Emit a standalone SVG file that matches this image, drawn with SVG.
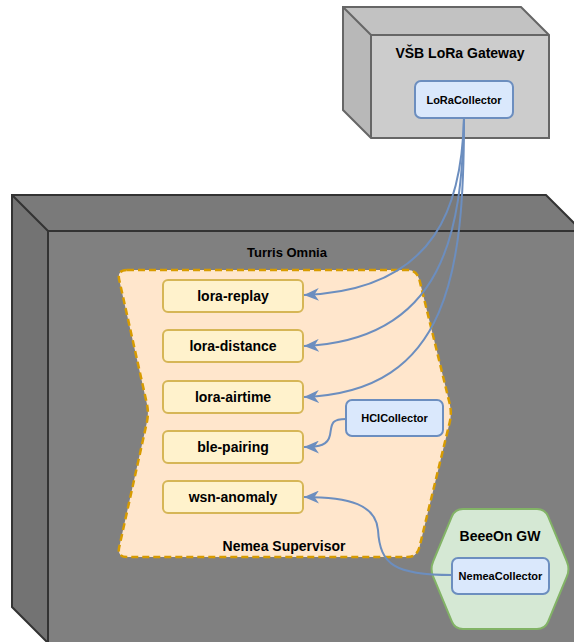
<svg xmlns="http://www.w3.org/2000/svg" width="574" height="642" viewBox="0 0 574 642">
<defs>
<style>
text{font-family:"Liberation Sans",Arial,sans-serif;font-weight:bold;fill:#000;text-anchor:middle}
.lbl{font-size:13px}
.big{font-size:14px}
.proc{fill:#fff2cc;stroke:#d6b656;stroke-width:2}
.proc-t{font-size:14px}
.col{fill:#dae8fc;stroke:#6c8ebf;stroke-width:2}
.col-t{font-size:11px}
.edge{fill:none;stroke:#6c8ebf;stroke-width:2}
</style>
<marker id="arr" markerUnits="userSpaceOnUse" viewBox="0 0 15 13" refX="15" refY="6.5" markerWidth="15" markerHeight="13" orient="auto">
<path d="M15,6.5 L0,0 L4.5,6.5 L0,13 Z" fill="#6c8ebf"/>
</marker>
</defs>
<rect width="574" height="642" fill="#fff"/>

<g id="turris-omnia">
<path d="M48,231 L582,231 L582,643 L48,643 Z" fill="#808080"/>
<path d="M12,195 L546,195 L582,231 L48,231 Z" fill="#7a7a7a"/>
<path d="M12,195 L48,231 L48,643 L12,607 Z" fill="#737373"/>
<path d="M12,195 L546,195 L582,231 L582,643 L48,643 L12,607 Z M12,195 L48,231 L582,231 M48,231 L48,643" fill="none" stroke="#333" stroke-width="2"/>
<text class="lbl" x="287" y="256.5">Turris Omnia</text>
</g>

<g id="vsb-gateway">
<path d="M371,35 L549,35 L549,138 L371,138 Z" fill="#cccccc"/>
<path d="M343,7 L521,7 L549,35 L371,35 Z" fill="#c2c2c2"/>
<path d="M343,7 L371,35 L371,138 L343,110 Z" fill="#b8b8b8"/>
<path d="M343,7 L521,7 L549,35 L549,138 L371,138 L343,110 Z M343,7 L371,35 L549,35 M371,35 L371,138" fill="none" stroke="#666" stroke-width="2"/>
<text class="big" x="460" y="58">VŠB LoRa Gateway</text>
</g>

<g id="nemea-supervisor">
<path d="M127,270 L407,270 Q417,270 419.4,279.7 L449.6,403.3 Q452,413 449.6,422.7 L419.4,547.3 Q417,557 407,557 L127,557 Q117,557 119.2,547.2 L146.8,422.7 Q149,413 146.8,403.3 L119.2,279.7 Q117,270 127,270 Z" fill="#ffe6cc" stroke="#d79b00" stroke-width="2.5" stroke-dasharray="7 4"/>
<text class="big" x="284" y="551">Nemea Supervisor</text>
</g>

<g id="beeeon-gw">
<path d="M463,509 L537,509 Q545,509 548.1,516.4 L566.9,561.6 Q570,569 566.9,576.4 L548.1,621.6 Q545,629 537,629 L463,629 Q455,629 451.9,621.6 L433.1,576.4 Q430,569 433.1,561.6 L451.9,516.4 Q455,509 463,509 Z" fill="#d5e8d4" stroke="#82b366" stroke-width="2"/>
<text class="big" x="500" y="541">BeeeOn GW</text>
</g>

<g id="lora-replay"><rect class="proc" x="163" y="280" width="140" height="32" rx="5"/><text class="proc-t" x="233" y="301">lora-replay</text></g>
<g id="lora-distance"><rect class="proc" x="163" y="330" width="140" height="32" rx="5"/><text class="proc-t" x="233" y="351">lora-distance</text></g>
<g id="lora-airtime"><rect class="proc" x="163" y="381" width="140" height="32" rx="5"/><text class="proc-t" x="233" y="402">lora-airtime</text></g>
<g id="ble-pairing"><rect class="proc" x="163" y="431" width="140" height="32" rx="5"/><text class="proc-t" x="233" y="452">ble-pairing</text></g>
<g id="wsn-anomaly"><rect class="proc" x="163" y="481" width="140" height="32" rx="5"/><text class="proc-t" x="233" y="502">wsn-anomaly</text></g>

<g id="loracollector"><rect class="col" x="415" y="81" width="98" height="37" rx="6"/><text class="col-t" x="464" y="104">LoRaCollector</text></g>
<g id="hcicollector"><rect class="col" x="346" y="400" width="97" height="36" rx="6"/><text class="col-t" x="394.5" y="422">HCICollector</text></g>
<g id="nemeacollector"><rect class="col" x="452" y="558" width="97" height="36" rx="6"/><text class="col-t" x="500.5" y="580">NemeaCollector</text></g>

<g id="connectors">
<path class="edge" marker-end="url(#arr)" d="M464,118 C462,200 440,290 304,295"/>
<path class="edge" marker-end="url(#arr)" d="M464,118 C462,230 445,340 304,346"/>
<path class="edge" marker-end="url(#arr)" d="M464,118 C464,270 450,392 304,397"/>
<path class="edge" marker-end="url(#arr)" d="M346,419 C330,419 332,425 330,435 C328,445 320,447 304,447"/>
<path class="edge" marker-end="url(#arr)" d="M452,575 C395,575 380,565 378,530 C376,505 350,497 304,497"/>
</g>
</svg>
